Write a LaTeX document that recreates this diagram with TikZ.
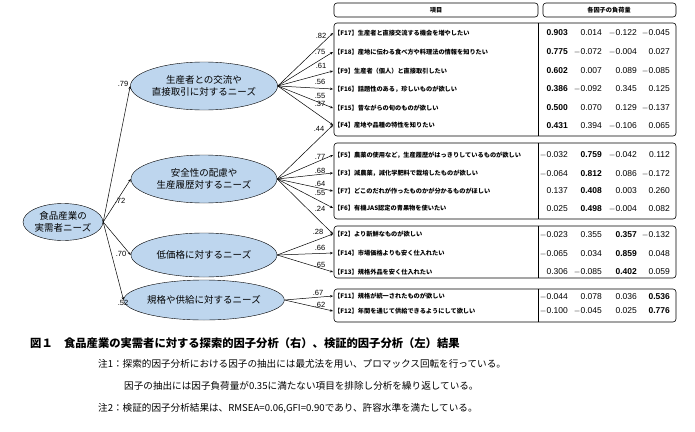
\documentclass[tikz,border=0pt]{standalone}
\usepackage{fontspec}
\setmainfont{Liberation Sans}
\newfontfamily\jp{Noto Sans CJK JP}
\usetikzlibrary{shapes.geometric,arrows.meta}
\definecolor{ellfill}{RGB}{190,214,238}
\tikzset{
 lat/.style={ellipse,draw,fill=ellfill,minimum width=#1,align=center,font=\jp\fontsize{9.5}{12}\selectfont,inner sep=0pt},
 lat/.default=146pt,
 arr/.style={-{Stealth[length=3pt,width=2.5pt]},line width=0.5pt},
 itm/.style={anchor=west,font=\jp\bfseries\fontsize{6.2}{7}\selectfont,inner sep=1pt},
 val/.style={anchor=east,font=\fontsize{8.5}{9}\selectfont,inner sep=0pt},
 bval/.style={val,font=\bfseries\fontsize{8.5}{9}\selectfont},
 coef/.style={font=\fontsize{7.5}{8}\selectfont,inner sep=0pt},
 box/.style={draw,rounded corners=3pt,line width=0.6pt},
 note/.style={anchor=west,font=\jp\fontsize{9.6}{11}\selectfont,inner sep=0pt}
}
\begin{document}
\begin{tikzpicture}[x=1pt,y=-1pt]
\useasboundingbox (0,0) rectangle (695,431);
% header
\draw[box] (334,3) rectangle (538,17);
\node[font=\jp\bfseries\fontsize{6.2}{7}\selectfont] (h1) at (436,10) {項目};
\draw[box] (543,3) rectangle (676,17);
\node[font=\jp\bfseries\fontsize{6.2}{7}\selectfont] (h2) at (609,10) {各因子の負荷量};
% boxes
\draw[box] (334,23) rectangle (676,136);
\draw[box] (334,143) rectangle (676,219);
\draw[box] (334,226) rectangle (676,278);
\draw[box] (334,289) rectangle (676,322);
\foreach \a/\b in {23/136,143/219,226/278,289/322}
  \draw[line width=0.6pt] (538,\a) -- (538,\b);
% items
\node[itm] (F17) at (333,33) {【F17】生産者と直接交流する機会を増やしたい};
\node[itm] (F18) at (333,52) {【F18】産地に伝わる食べ方や料理法の情報を知りたい};
\node[itm] (F9) at (333,71) {【F9】生産者（個人）と直接取引したい};
\node[itm] (F16) at (333,89) {【F16】話題性のある，珍しいものが欲しい};
\node[itm] (F15) at (333,108) {【F15】昔ながらの旬のものが欲しい};
\node[itm] (F4) at (333,125) {【F4】産地や品種の特性を知りたい};
\node[itm] (F5) at (333,155) {【F5】農薬の使用など，生産履歴がはっきりしているものが欲しい};
\node[itm] (F3) at (333,173) {【F3】減農薬，減化学肥料で栽培したものが欲しい};
\node[itm] (F7) at (333,191) {【F7】どこのだれが作ったものかが分かるものがほしい};
\node[itm] (F6) at (333,208) {【F6】有機JAS認定の青果物を使いたい};
\node[itm] (F2) at (333,234) {【F2】より新鮮なものが欲しい};
\node[itm] (F14) at (333,253) {【F14】市場価格よりも安く仕入れたい};
\node[itm] (F13) at (333,272) {【F13】規格外品を安く仕入れたい};
\node[itm] (F11) at (333,296) {【F11】規格が統一されたものが欲しい};
\node[itm] (F12) at (333,311) {【F12】年間を通じて供給できるようにして欲しい};
% values
\foreach \y/\a/\b/\c/\d/\k in {
 33/0.903/0.014/$-$0.122/$-$0.045/1,
 52/0.775/$-$0.072/$-$0.004/0.027/1,
 71/0.602/0.007/0.089/$-$0.085/1,
 89/0.386/$-$0.092/0.345/0.125/1,
 108/0.500/0.070/0.129/$-$0.137/1,
 126/0.431/0.394/$-$0.106/0.065/1,
 155/$-$0.032/0.759/$-$0.042/0.112/2,
 174/$-$0.064/0.812/0.086/$-$0.172/2,
 191/0.137/0.408/0.003/0.260/2,
 209/0.025/0.498/$-$0.004/0.082/2,
 235/$-$0.023/0.355/0.357/$-$0.132/3,
 254/$-$0.065/0.034/0.859/0.048/3,
 272/0.306/$-$0.085/0.402/0.059/3,
 297/$-$0.044/0.078/0.036/0.536/4,
 311/$-$0.100/$-$0.045/0.025/0.776/4}{
 \ifnum\k=1 \node[bval] at (568,\y) {\a};\else\node[val] at (568,\y) {\a};\fi
 \ifnum\k=2 \node[bval] at (602,\y) {\b};\else\node[val] at (602,\y) {\b};\fi
 \ifnum\k=3 \node[bval] at (637,\y) {\c};\else\node[val] at (637,\y) {\c};\fi
 \ifnum\k=4 \node[bval] at (670,\y) {\d};\else\node[val] at (670,\y) {\d};\fi
}
% latent
\node[lat=76pt,minimum height=37pt] (R) at (63,222) {食品産業の\\実需者ニーズ};
\node[lat,minimum height=48pt] (E1) at (204,86) {生産者との交流や\\直接取引に対するニーズ};
\node[lat,minimum height=48pt] (E2) at (204,179) {安全性の配慮や\\生産履歴対するニーズ};
\node[lat,minimum height=44pt] (E3) at (204,255) {低価格に対するニーズ};
\node[lat,minimum height=40pt] (E4) at (204,300) {規格や供給に対するニーズ};
% left arrows
\foreach \e in {E1,E2,E3,E4} \draw[arr] (R.east) -- (\e.west);
\node[coef] at (123,84) {.79};
\node[coef] at (120,201) {.72};
\node[coef] at (121,254) {.70};
\node[coef] at (123,303) {.52};
% right arrows
\foreach \f in {F17,F18,F9,F16,F15,F4} \draw[arr] (E1.east) -- (\f.west);
\foreach \f in {F4,F5,F3,F7,F6,F2} \draw[arr] (E2.east) -- (\f.west);
\foreach \f in {F2,F14,F13} \draw[arr] (E3.east) -- (\f.west);
\foreach \f in {F11,F12} \draw[arr] (E4.east) -- (\f.west);
\foreach \x/\y/\t in {321/36/.82,320/52/.75,321/66/.61,320/82/.56,320/96/.55,320/104/.37,319/129/.44,
 320/157/.77,320/171/.68,320/184/.64,320/193/.55,320/209/.24,318/232/.28,320/248/.66,320/265/.65,318/293/.67,320/305/.62}
 \node[coef] at (\x,\y) {\t};
% caption
\node[anchor=west,font=\jp\bfseries\fontsize{11.3}{12}\selectfont,inner sep=0pt] (cap) at (30,343) {図１　食品産業の実需者に対する探索的因子分析（右）、検証的因子分析（左）結果};
\node[note] (n1) at (98,364) {注1：探索的因子分析における因子の抽出には最尤法を用い、プロマックス回転を行っている。};
\node[note] (n2) at (124,386) {因子の抽出には因子負荷量が0.35に満たない項目を排除し分析を繰り返している。};
\node[note] (n3) at (98,408) {注2：検証的因子分析結果は、RMSEA=0.06,GFI=0.90であり、許容水準を満たしている。};
\end{tikzpicture}
\end{document}
